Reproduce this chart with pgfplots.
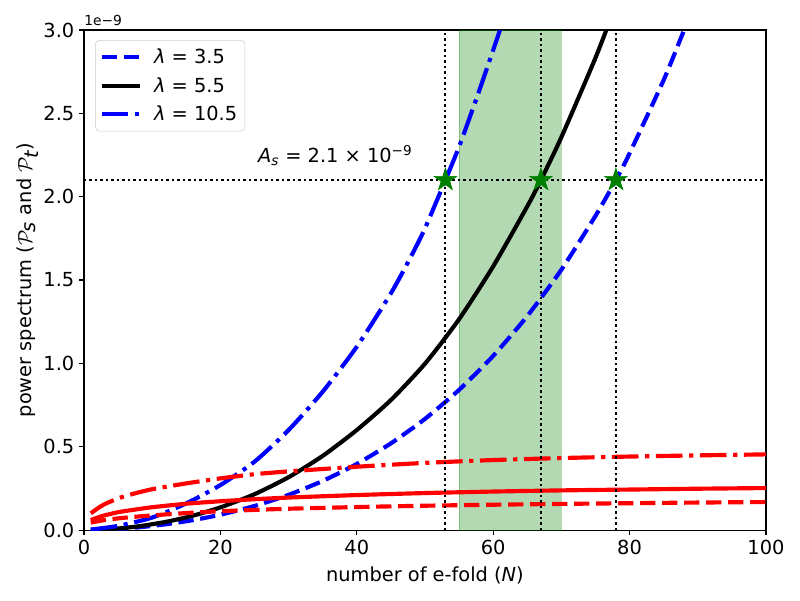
\documentclass[border=0pt]{standalone}
\usepackage{fontspec}
\setmainfont{DejaVu Sans}
\usepackage{pgfplots}
\pgfplotsset{compat=1.18}
\definecolor{mplgreen}{RGB}{0,128,0}
\definecolor{mplblue}{RGB}{0,0,255}
\definecolor{mplred}{RGB}{255,0,0}
\pgfdeclareplotmark{fstar}{%
  \pgfpathmoveto{\pgfpointpolar{90}{\pgfplotmarksize}}%
  \pgfpathlineto{\pgfpointpolar{126}{0.382\pgfplotmarksize}}%
  \pgfpathlineto{\pgfpointpolar{162}{\pgfplotmarksize}}%
  \pgfpathlineto{\pgfpointpolar{198}{0.382\pgfplotmarksize}}%
  \pgfpathlineto{\pgfpointpolar{234}{\pgfplotmarksize}}%
  \pgfpathlineto{\pgfpointpolar{270}{0.382\pgfplotmarksize}}%
  \pgfpathlineto{\pgfpointpolar{306}{\pgfplotmarksize}}%
  \pgfpathlineto{\pgfpointpolar{342}{0.382\pgfplotmarksize}}%
  \pgfpathlineto{\pgfpointpolar{18}{\pgfplotmarksize}}%
  \pgfpathlineto{\pgfpointpolar{54}{0.382\pgfplotmarksize}}%
  \pgfpathclose
  \pgfusepathqfillstroke
}
\tikzset{
  mpldashed/.style={dash pattern=on 11.1pt off 4.8pt},
  mpldashdot/.style={dash pattern=on 19.2pt off 4.8pt on 3pt off 4.8pt},
  mpldotted/.style={black, line width=1.5pt, dash pattern=on 1.5pt off 2.475pt},
}
\begin{document}
\begin{tikzpicture}
\begin{axis}[
  name=ax, at={(0,0)}, anchor=south west,
  scale only axis, width=492.9pt, height=361.4pt,
  xmin=0, xmax=100, ymin=0, ymax=3,
  xtick={0,20,40,60,80,100},
  ytick={0,0.5,1,1.5,2,2.5,3},
  yticklabel style={/pgf/number format/.cd, fixed, fixed zerofill, precision=1},
  /pgf/number format/assume math mode=true,
  tick align=outside, tick pos=left, major tick length=3.5pt,
  every tick/.style={black, line width=0.8pt},
  axis line style={line width=0.8pt},
  ticklabel style={font=\fontsize{14}{16}\selectfont},
  every axis x label/.style={at={(0.5,0)}, anchor=base, yshift=-36.9pt, font=\fontsize{14}{16}\selectfont},
  every axis y label/.style={at={(0,0.5)}, rotate=90, anchor=base, yshift=37.6pt, font=\fontsize{14}{16}\selectfont},
  xlabel={number of e-fold ({\itshape N})},
  ylabel={power spectrum ($\mathcal{P}_{\textit{s}}$ and $\mathcal{P}_{\textit{t}}$)},
  legend style={at={(0.0162,0.980)}, anchor=north west, draw=black!20, fill=white, fill opacity=0.8, text opacity=1,
    rounded corners=3pt, font=\fontsize{14}{16}\selectfont, inner xsep=3pt, inner ysep=3.5pt, row sep=3.6pt,
    nodes={inner sep=2.5pt}, /tikz/every odd column/.append style={column sep=6pt}},
  legend cell align=left,
  legend image code/.code={\draw[#1] (0pt,0pt) -- (28pt,0pt);},
]
% green band
\addplot[draw=mplgreen, draw opacity=0.3, fill=mplgreen, fill opacity=0.3, forget plot]
  coordinates {(55,0) (55,3) (70,3) (70,0)} -- cycle;

% scalar spectra
\addplot[mplblue, line width=3pt, mpldashed, smooth, tension=0.4] coordinates {
(1,0.0005)(3,0.003)(5,0.0071)(8,0.0164)(12,0.0346)(16,0.0597)(20,0.0922)(25,0.1445)(30,0.2113)(35,0.2946)(40,0.3966)(45,0.52)(50,0.667)(55,0.841)(60,1.045)(65,1.284)(70,1.562)(75,1.885)(78,2.1)(80,2.26)(85,2.70)(88,3.0)(90,3.2)};
\addlegendentry{{\itshape λ} = 3.5}
\addplot[black, line width=3pt, smooth, tension=0.4] coordinates {
(1,0.0005)(3,0.0036)(5,0.0093)(8,0.0226)(12,0.049)(16,0.0865)(20,0.136)(25,0.215)(30,0.317)(35,0.445)(40,0.60)(45,0.78)(50,0.998)(55,1.265)(60,1.582)(65,1.942)(67,2.1)(70,2.357)(75,2.833)(78,3.152)};
\addlegendentry{{\itshape λ} = 5.5}
\addplot[mplblue, line width=3pt, mpldashdot, smooth, tension=0.4] coordinates {
(1,0.003)(5,0.025)(10,0.075)(15,0.16)(20,0.27)(25,0.41)(30,0.6)(35,0.83)(40,1.1)(45,1.42)(48,1.645)(50,1.81)(53,2.1)(55,2.3)(57.3,2.56)(59,2.76)(61,3.0)(62,3.12)};
\addlegendentry{{\itshape λ} = 10.5}

% tensor spectra
\addplot[mplred, line width=3pt, mpldashed, smooth, tension=0.4, forget plot] coordinates {
(1,0.045)(2,0.053)(3,0.06)(5,0.07)(7,0.078)(10,0.088)(15,0.102)(20,0.113)(25,0.121)(30,0.128)(40,0.138)(50,0.146)(60,0.152)(70,0.157)(80,0.161)(90,0.165)(100,0.168)};
\addplot[mplred, line width=3pt, smooth, tension=0.4, forget plot] coordinates {
(1,0.06)(2,0.075)(3,0.088)(5,0.107)(7,0.12)(10,0.137)(15,0.158)(20,0.173)(25,0.185)(30,0.195)(40,0.21)(50,0.222)(60,0.231)(70,0.238)(80,0.243)(90,0.248)(100,0.252)};
\addplot[mplred, line width=3pt, mpldashdot, smooth, tension=0.4, forget plot] coordinates {
(1,0.10)(2,0.13)(3,0.155)(5,0.19)(7,0.215)(10,0.245)(15,0.28)(20,0.31)(25,0.335)(30,0.352)(40,0.38)(50,0.403)(60,0.42)(70,0.432)(80,0.441)(90,0.448)(100,0.454)};

% reference lines
\addplot[mpldotted, forget plot] coordinates {(0,2.1) (100,2.1)};
\addplot[mpldotted, forget plot] coordinates {(53,0) (53,3)};
\addplot[mpldotted, forget plot] coordinates {(67,0) (67,3)};
\addplot[mpldotted, forget plot] coordinates {(78,0) (78,3)};

% stars
\addplot[only marks, mark=fstar, mark size=8.5pt, mark options={fill=mplgreen, draw=mplgreen, line width=0.5pt}, forget plot]
  coordinates {(53,2.1) (67,2.1) (78,2.1)};

\node[anchor=base west, inner sep=0pt, font=\fontsize{14}{16}\selectfont] at (axis cs:25.5,2.206)
  {{\itshape A}\textsubscript{\itshape s} = 2.1 × 10\textsuperscript{−9}};
\end{axis}
\node[anchor=south west, inner sep=0pt, font=\fontsize{10}{12}\selectfont] at ([yshift=3pt]ax.north west) {1e−9};
\pgfresetboundingbox
\useasboundingbox (-60.7pt,-50.6pt) rectangle (517.5pt,383.1pt);
\end{tikzpicture}
\end{document}
